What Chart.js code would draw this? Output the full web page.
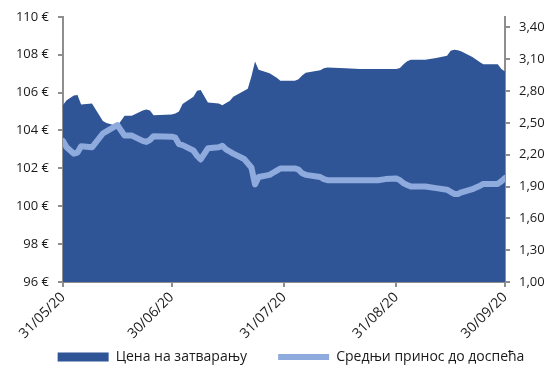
<!DOCTYPE html>
<html>
<head>
<meta charset="utf-8">
<script src="https://cdn.jsdelivr.net/npm/chart.js@4.4.1/dist/chart.umd.min.js"></script>
<style>
  html, body { margin: 0; padding: 0; background: #ffffff; }
  #wrap { width: 550px; height: 369px; }
</style>
</head>
<body>
<div id="wrap"><canvas id="chart"></canvas></div>
<script>
// Trading days
const dates = [
    '31/05/20', '01/06/20', '03/06/20', '04/06/20', '05/06/20', '08/06/20', '11/06/20', '12/06/20',
    '15/06/20', '17/06/20', '19/06/20', '22/06/20', '23/06/20', '24/06/20', '25/06/20', '30/06/20',
    '01/07/20', '02/07/20', '03/07/20', '06/07/20', '07/07/20', '08/07/20', '10/07/20', '13/07/20',
    '14/07/20', '15/07/20', '16/07/20', '17/07/20', '20/07/20', '21/07/20', '22/07/20', '23/07/20',
    '24/07/20', '27/07/20', '28/07/20', '29/07/20', '30/07/20', '31/07/20', '03/08/20', '04/08/20',
    '05/08/20', '06/08/20', '10/08/20', '11/08/20', '12/08/20', '17/08/20', '21/08/20', '26/08/20',
    '28/08/20', '31/08/20', '01/09/20', '02/09/20', '03/09/20', '04/09/20', '08/09/20', '11/09/20',
    '14/09/20', '15/09/20', '16/09/20', '17/09/20', '18/09/20', '21/09/20', '22/09/20', '23/09/20',
    '24/09/20', '25/09/20', '28/09/20', '29/09/20', '30/09/20'
];

// Closing price, EUR
const closingPrice = [
    105.35, 105.60, 105.85, 105.87, 105.37, 105.42, 104.50, 104.40,
    104.24, 104.77, 104.77, 105.05, 105.10, 105.05, 104.80, 104.84,
    104.90, 105.00, 105.40, 105.78, 106.10, 106.13, 105.48, 105.42,
    105.33, 105.45, 105.55, 105.78, 106.10, 106.20, 106.85, 107.64,
    107.20, 107.02, 106.90, 106.78, 106.63, 106.63, 106.63, 106.70,
    106.90, 107.05, 107.18, 107.28, 107.32, 107.29, 107.25, 107.25,
    107.25, 107.25, 107.30, 107.50, 107.65, 107.73, 107.73, 107.82,
    107.95, 108.21, 108.26, 108.24, 108.17, 107.88, 107.75, 107.62,
    107.50, 107.50, 107.50, 107.25, 107.11
];

// Average yield to maturity, %
const avgYield = [
    2.33, 2.27, 2.21, 2.22, 2.28, 2.27, 2.40, 2.42,
    2.48, 2.38, 2.38, 2.33, 2.32, 2.34, 2.375, 2.37,
    2.36, 2.30, 2.29, 2.24, 2.19, 2.155, 2.26, 2.27,
    2.283, 2.25, 2.23, 2.21, 2.16, 2.12, 2.08, 1.92,
    1.99, 2.01, 2.03, 2.05, 2.07, 2.07, 2.07, 2.06,
    2.025, 2.01, 1.99, 1.97, 1.96, 1.96, 1.96, 1.96,
    1.97, 1.975, 1.96, 1.93, 1.915, 1.90, 1.90, 1.885,
    1.87, 1.85, 1.83, 1.83, 1.845, 1.875, 1.89, 1.905,
    1.925, 1.925, 1.925, 1.95, 1.98
];

const tickLabels = ['31/05/20', '30/06/20', '31/07/20', '31/08/20', '30/09/20'];

const seriesNames = ['Цена на затварању', 'Средњи принос до доспећа'];

// dd/mm/yy -> whole days since the first date
function toDay(s) {
    const [d, m, y] = s.split('/').map(Number);
    return Date.UTC(2000 + y, m - 1, d) / 86400000;
}
const day0 = toDay(dates[0]);
const xs = dates.map(s => toDay(s) - day0);
const tickDays = tickLabels.map(s => toDay(s) - day0);

const FONT = "'Open Sans', 'Noto Sans', sans-serif";
const AXIS_GREY = '#8e8e8e';

Chart.defaults.font.family = FONT;
Chart.defaults.font.size = 13;
Chart.defaults.color = '#1a1a1a';

// the wide item padding also pads the legend vertically; stretch its box
// upwards so the row lands low, and move it a little to the right
const legendNudge = {
    id: 'legendNudge',
    afterLayout(chart) {
        const lg = chart.legend;
        if (!lg) return;
        lg.left += 16;
        lg.right += 16;
        lg.top -= 27;
    }
};

new Chart(document.getElementById('chart'), {
    type: 'line',
    data: {
        datasets: [
            {
                label: seriesNames[0],
                data: xs.map((x, i) => ({ x: x, y: closingPrice[i] })),
                yAxisID: 'y',
                backgroundColor: '#2f5597',
                borderColor: '#2f5597',
                borderWidth: 0,
                fill: 'start',
                pointRadius: 0,
                pointStyle: 'rect',
                tension: 0,
                order: 2
            },
            {
                label: seriesNames[1],
                data: xs.map((x, i) => ({ x: x, y: avgYield[i] })),
                yAxisID: 'y1',
                backgroundColor: '#8faadc',
                borderColor: '#8faadc',
                borderWidth: 6,
                borderCapStyle: 'round',
                borderJoinStyle: 'round',
                fill: false,
                pointRadius: 0,
                pointStyle: 'line',
                tension: 0,
                order: 1
            }
        ]
    },
    plugins: [legendNudge],
    options: {
        responsive: true,
        maintainAspectRatio: false,
        animation: false,
        layout: { padding: { top: 10, left: 5, right: 5, bottom: 2 } },
        plugins: {
            tooltip: { enabled: false },
            legend: {
                position: 'bottom',
                maxHeight: 21,
                labels: {
                    usePointStyle: true,
                    pointStyleWidth: 51,
                    boxHeight: 9,
                    padding: 31,
                    font: { size: 14 },
                    sort: (a, b) => a.datasetIndex - b.datasetIndex
                }
            }
        },
        scales: {
            x: {
                type: 'linear',
                min: 0,
                max: tickDays[tickDays.length - 1],
                afterBuildTicks: s => { s.ticks = tickDays.map(v => ({ value: v })); },
                afterFit: s => { s.height = 64; },
                grid: { drawOnChartArea: false, drawTicks: true, tickLength: 5, color: AXIS_GREY, lineWidth: 2 },
                border: { color: AXIS_GREY, width: 2 },
                ticks: {
                    autoSkip: false,
                    maxRotation: 45,
                    minRotation: 45,
                    padding: 2,
                    font: { size: 14 },
                    callback: v => tickLabels[tickDays.indexOf(v)] || ''
                }
            },
            y: {
                position: 'left',
                min: 96,
                max: 110,
                afterFit: s => { s.width = 58; },
                grid: { drawOnChartArea: false, drawTicks: true, tickLength: 5, color: AXIS_GREY, lineWidth: 2 },
                border: { color: AXIS_GREY, width: 2 },
                ticks: {
                    stepSize: 2,
                    padding: 9,
                    callback: v => v + ' €'
                }
            },
            y1: {
                position: 'right',
                min: 1,
                max: 3.5,
                afterBuildTicks: s => {
                    const t = [];
                    for (let v = 1; v <= 3.41; v += 0.3) t.push({ value: Math.round(v * 100) / 100 });
                    s.ticks = t;
                },
                afterFit: s => { s.width = 40; },
                grid: { drawOnChartArea: false, drawTicks: true, tickLength: 5, color: AXIS_GREY, lineWidth: 2 },
                border: { color: AXIS_GREY, width: 2 },
                ticks: {
                    padding: 9,
                    callback: v => v.toFixed(2).replace('.', ',')
                }
            }
        }
    }
});
</script>
</body>
</html>
